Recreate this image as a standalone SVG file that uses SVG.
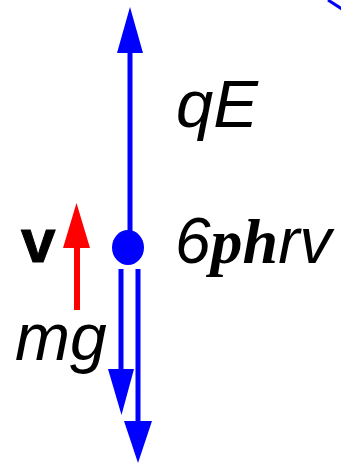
<svg xmlns="http://www.w3.org/2000/svg" width="341" height="465" viewBox="0 0 341 465">
<style>
.b{stroke:#0000ff;stroke-width:5;fill:none}
.hb{fill:#0000ff}
.t{font-family:"Liberation Sans",Arial,sans-serif;font-style:italic;fill:#000}
</style>
<rect width="341" height="465" fill="#fff"/>
<g id="connectors">
<line class="b" x1="130" y1="50" x2="130" y2="232"/>
<polygon class="hb" points="130,7 117,53 143,53"/>
<line class="b" x1="121" y1="269" x2="121" y2="372"/>
<polygon class="hb" points="108,369 134,369 121.5,415"/>
<line class="b" x1="138" y1="269" x2="138" y2="424"/>
<polygon class="hb" points="124,421 152,421 138,463"/>
<line x1="77" y1="245" x2="77" y2="310" stroke="#ff0000" stroke-width="6"/>
<polygon fill="#ff0000" points="76.5,203 63,248 90,248"/>
<line x1="328" y1="0" x2="342" y2="9" stroke="#0000ff" stroke-width="3"/>
</g>
<g id="particle">
<ellipse cx="128" cy="247.5" rx="16" ry="17.5" fill="#0000ff"/>
</g>
<g id="label-qE"><text class="t" x="176" y="127" font-size="67">qE</text></g>
<g id="label-drag"><text class="t" x="175" y="263" font-size="64">6<tspan font-family="'Liberation Serif','Times New Roman',serif" font-weight="bold">ph</tspan>rv</text></g>
<g id="label-v"><text x="21" y="262" font-family="'Liberation Sans',Arial,sans-serif" font-weight="bold" font-size="62" stroke="#000" stroke-width="1">v</text></g>
<g id="label-mg"><text class="t" x="15" y="360" font-size="66">mg</text></g>
</svg>
